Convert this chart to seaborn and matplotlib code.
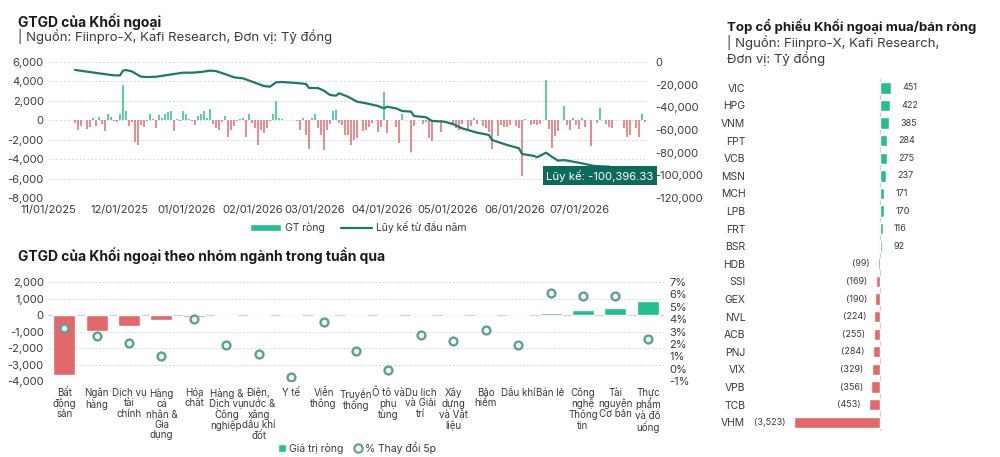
import numpy as np
import pandas as pd
import seaborn as sns
import matplotlib.pyplot as plt
from matplotlib.ticker import FuncFormatter
from matplotlib.patches import Patch
from matplotlib.lines import Line2D

# ---- data: daily foreign net trading (bn VND), one value per trading day
daily_net = [
    -300, -1000, -600, 0, -900, -700, 200, -600, 300, -400,
    -1100, 600, 300, -100, -200, 600, 3600, 1000, -600, -200,
    -2200, -2500, -500, -700, -100, 700, 100, -800, 500, 200,
    600, 900, 1000, -1100, 100, -100, 1000, 700, 100, -100,
    -500, 400, 600, 1000, 200, 1200, -400, -800, -1000, -200,
    400, -1700, -1000, -600, -100, 100, 200, -1700, 600, -300,
    -800, -2500, -1000, -1300, -800, -100, 700, 2000, 200, 100,
    0, 0, 0, 0, -100, -1000, 200, -1500, -3000, 200,
    700, -800, -1500, -3100, -1000, -400, 1000, 1100, -300, -500,
    -1500, -1500, -2500, -2000, -1800, 0, -1100, -1000, -700, -300,
    0, -1200, -700, 2900, -1300, 0, 0, -700, -2300, 700,
    0, 0, -3300, -600, 0, 0, -400, -200, -1800, -2100,
    0, 0, -1200, 0, 0, 0, -500, -800, -1000, -400,
    0, -900, -600, 200, -400, 0, -600, -800, -1200, -3000,
    0, -1600, -500, -700, -700, -500, 0, -600, -800, -5700,
    100, 0, -500, -400, -500, -400, 0, 4100, -900, -2900,
    -1600, -1100, 0, 1500, -500, -1000, 200, -500, -900, 200,
    -700, 0, -2600, 0, -300, 1300, 0, -400, -700, -800,
    0, 0, 0, -800, -1700, -1500, 0, -800, -1700, 600, -200,
]

# cumulative line, read at selected trading days
cum_day = [0, 4, 8, 13, 15, 16, 17, 19, 21, 22,
           24, 27, 29, 33, 36, 39, 42, 45, 47, 50,
           53, 56, 59, 63, 65, 67, 69, 75, 77, 78,
           81, 83, 85, 87, 88, 91, 94, 97, 101, 103,
           104, 107, 109, 112, 113, 117, 119, 123, 126, 129,
           134, 138, 139, 144, 148, 149, 153, 154, 157, 159,
           161, 163, 166, 169, 173, 178, 181, 184, 187, 190]
cum_val = [-7000, -8500, -10000, -11800, -11800, -7600, -7100, -8300, -11500, -12900,
           -13300, -13000, -12200, -10600, -9400, -9400, -8800, -7600, -8000, -10600,
           -13500, -14400, -17300, -21200, -21800, -17900, -17600, -18800, -19400, -22900,
           -23000, -25300, -29100, -29700, -27600, -30600, -35000, -36400, -38800, -40900,
           -39400, -40900, -43200, -43800, -47600, -48800, -52000, -52600, -54700, -58500,
           -62300, -64400, -68800, -73200, -76100, -81100, -82900, -84100, -80000, -83700,
           -87000, -86500, -87900, -89400, -91700, -92300, -94500, -96800, -98700, -100396.33]

month_labels = ["11/01/2025", "12/01/2025", "01/01/2026", "02/01/2026", "03/01/2026",
                "04/01/2026", "05/01/2026", "06/01/2026", "07/01/2026"]

sectors = ["Bất\nđộng\nsản", "Ngân\nhàng", "Dịch vụ\ntài\nchính", "Hàng\ncá\nnhân &\nGia\ndụng",
           "Hóa\nchất", "Hàng &\nDịch vụ\nCông\nnghiệp", "Điện,\nnước &\nxăng\ndầu khí\nđốt",
           "Y tế", "Viễn\nthông", "Truyền\nthông", "Ô tô và\nphụ\ntùng", "Du lịch\nvà Giải\ntrí",
           "Xây\ndựng\nvà Vật\nliệu", "Bảo\nhiểm", "Dầu khí", "Bán lẻ", "Công\nnghệ\nThông\ntin",
           "Tài\nnguyên\nCơ bản", "Thực\nphẩm\nvà đồ\nuống"]
sector_net = [-3620, -950, -660, -320, -150, -80, -40, -10, -10, -5,
              0, 0, 0, 0, 60, 130, 300, 400, 870]
sector_chg = [3.3, 2.6, 2.1, 1.0, 4.0, 1.9, 1.2, -0.7, 3.8, 1.4,
              -0.1, 2.75, 2.2, 3.1, 1.9, 6.1, 5.85, 5.85, 2.4]

tickers = ["VIC", "HPG", "VNM", "FPT", "VCB", "MSN", "MCH", "LPB", "FRT", "BSR",
           "HDB", "SSI", "GEX", "NVL", "ACB", "PNJ", "VIX", "VPB", "TCB", "VHM"]
ticker_net = [451, 422, 385, 284, 275, 237, 171, 170, 116, 92,
              -99, -169, -190, -224, -255, -284, -329, -356, -453, -3523]

# ---- style
TEAL = "#22c08f"
RED = "#e4676b"
LINE = "#1b7a6b"
BOX = "#0d6b5d"
GRID = "#d9d9d9"
TXT = "#3a3a3a"
RING = "#5e9f9a"
RING_FILL = "#eef6f5"

sns.set_theme(style="white")
plt.rcParams['font.family'] = ['Inter', 'DejaVu Sans']
plt.rcParams['axes.unicode_minus'] = False

fig = plt.figure(figsize=(10, 4.57), dpi=100)

def thousands(v, p):
    return f"{v:,.0f}"

# ================= top-left: daily net + cumulative
ax1 = fig.add_axes([0.048, 0.5667, 0.600, 0.2976])
day_idx = np.arange(len(daily_net))
ax1.bar(day_idx, daily_net, width=0.55, linewidth=0,
        color=[TEAL if v >= 0 else RED for v in daily_net], alpha=0.75)
ax1.set_ylim(-8000, 6000)
ax1.set_yticks(range(-8000, 6001, 2000))
ax1.yaxis.set_major_formatter(FuncFormatter(thousands))
ax1.grid(axis='y', linestyle=(0, (2, 2)), color=GRID, linewidth=0.7)
ax1.set_axisbelow(True)

ax1b = ax1.twinx()
sns.lineplot(x=cum_day, y=cum_val, ax=ax1b, color=LINE, linewidth=1.6)
ax1b.set_ylim(-120000, 0)
ax1b.set_yticks(range(-120000, 1, 20000))
ax1b.yaxis.set_major_formatter(FuncFormatter(thousands))
ax1b.set_ylabel("")
ax1b.annotate(f"Lũy kế: {cum_val[-1]:,.2f}", xy=(cum_day[-1], cum_val[-1]),
              xytext=(6, 0), textcoords='offset points', ha='right', va='center',
              color='white', fontsize=8.2, zorder=10, annotation_clip=False,
              bbox=dict(boxstyle='square,pad=0.3', fc=BOX, ec='none'))

ax1.set_xlim(-9, 191)
ax1.set_xticks([-9, 14.7, 37.3, 59.3, 80, 102.3, 124.3, 146.7, 168.3])
ax1.set_xticklabels(month_labels)
for a in (ax1, ax1b):
    for s in a.spines.values():
        s.set_visible(False)
ax1.tick_params(axis='x', length=0, pad=5, labelsize=8, labelcolor=TXT)
ax1.tick_params(axis='y', length=0, pad=3, labelsize=8, labelcolor=TXT)
ax1b.tick_params(axis='y', length=0, pad=5, labelsize=8, labelcolor=TXT)

fig.legend(handles=[Patch(facecolor=TEAL), Line2D([], [], color=LINE, lw=1.6)],
           labels=["GT ròng", "Lũy kế từ đầu năm"], loc='center',
           bbox_to_anchor=(0.358, 0.503), ncol=2, frameon=False, fontsize=7.5,
           handlelength=3, handleheight=0.6, handletextpad=0.4, columnspacing=1.5,
           labelcolor=TXT)

# ================= bottom-left: sectors
ax2 = fig.add_axes([0.048, 0.1663, 0.616, 0.2166])
df2 = pd.DataFrame({"sector": sectors, "net": sector_net,
                    "sign": ["pos" if v > 0 else "neg" for v in sector_net]})
sns.barplot(data=df2, x="sector", y="net", hue="sign", palette={"pos": TEAL, "neg": RED},
            dodge=False, width=0.68, saturation=1, legend=False, ax=ax2)
ax2.axhline(0, color="#cfcfcf", lw=0.9, zorder=0)
ax2.set_ylim(-4000, 2000)
ax2.set_yticks(range(-4000, 2001, 1000))
ax2.yaxis.set_major_formatter(FuncFormatter(thousands))
ax2.grid(axis='y', linestyle=(0, (2, 2)), color=GRID, linewidth=0.7)
ax2.set_axisbelow(True)
ax2.set_xlabel("")
ax2.set_ylabel("")

ax2b = ax2.twinx()
sns.scatterplot(x=sectors, y=sector_chg, ax=ax2b, s=32, color=RING_FILL,
                edgecolor=RING, linewidth=1.7, zorder=5)
ax2b.set_ylim(-1, 7)
ax2b.set_yticks(range(-1, 8))
ax2b.yaxis.set_major_formatter(FuncFormatter(lambda v, p: f"{v:.0f}%"))
ax2b.set_ylabel("")

ax2.set_xlim(-0.5, len(sectors) - 0.5)
ax2.set_xticks(range(len(sectors)))
ax2.set_xticklabels(sectors, fontsize=7, linespacing=1.05, color=TXT)
for a in (ax2, ax2b):
    for s in a.spines.values():
        s.set_visible(False)
ax2.tick_params(axis='x', length=0, pad=5)
ax2.tick_params(axis='y', length=0, pad=3, labelsize=8, labelcolor=TXT)
ax2b.tick_params(axis='y', length=0, pad=4, labelsize=8, labelcolor=TXT)

fig.legend(handles=[Patch(facecolor=TEAL),
                    Line2D([], [], marker='o', ls='', mfc=RING_FILL, mec=RING, mew=1.5, ms=6)],
           labels=["Giá trị ròng", "% Thay đổi 5p"], loc='center',
           bbox_to_anchor=(0.357, 0.02), ncol=2, frameon=False, fontsize=7.5,
           handlelength=0.8, handleheight=0.8, handletextpad=0.3, columnspacing=1.0,
           labelcolor=TXT)

# ================= right: top stocks
ax3 = fig.add_axes([0.755, 0.0569, 0.205, 0.770])
df3 = pd.DataFrame({"ticker": tickers, "net": ticker_net,
                    "sign": ["pos" if v >= 0 else "neg" for v in ticker_net]})
sns.barplot(data=df3, y="ticker", x="net", hue="sign", palette={"pos": TEAL, "neg": RED},
            dodge=False, width=0.64, saturation=1, orient='h', legend=False, ax=ax3)
ax3.axvline(0, color="#d0d0d0", lw=0.9, zorder=0)
ax3.set_xlim(-5100, 3265)
ax3.set_xticks([])
ax3.set_xlabel("")
ax3.set_ylabel("")
for s in ax3.spines.values():
    s.set_visible(False)
ax3.tick_params(axis='y', length=0, pad=7, labelsize=7.5, labelcolor=TXT)
for i, v in enumerate(ticker_net):
    if v >= 0:
        ax3.annotate(f"{v:,}", (v, i), xytext=(8, 0), textcoords='offset points',
                     ha='left', va='center', fontsize=6.5, color=TXT)
    else:
        ax3.annotate(f"({-v:,})", (v, i), xytext=(-6, 0), textcoords='offset points',
                     ha='right', va='center', fontsize=6.5, color=TXT)

# ================= titles
fig.text(0.018, 1 - 21.7 / 457, "GTGD của Khối ngoại", fontsize=10, fontweight='bold',
         va='center', color="#1a1a1a")
fig.text(0.018, 1 - 37 / 457, "| Nguồn: Fiinpro-X, Kafi Research, Đơn vị: Tỷ đồng",
         fontsize=9.5, va='center', color=TXT)
fig.text(0.018, 1 - 256 / 457, "GTGD của Khối ngoại theo nhóm ngành trong tuần qua",
         fontsize=10, fontweight='bold', va='center', color="#1a1a1a")
fig.text(0.727, 1 - 26.7 / 457, "Top cổ phiếu Khối ngoại mua/bán ròng", fontsize=9.5,
         fontweight='bold', va='center', color="#1a1a1a")
fig.text(0.727, 1 - 42.7 / 457, "| Nguồn: Fiinpro-X, Kafi Research,", fontsize=9.5,
         va='center', color=TXT)
fig.text(0.727, 1 - 59 / 457, "Đơn vị: Tỷ đồng", fontsize=9.5, va='center', color=TXT)

fig.savefig("out.png", dpi=100)
